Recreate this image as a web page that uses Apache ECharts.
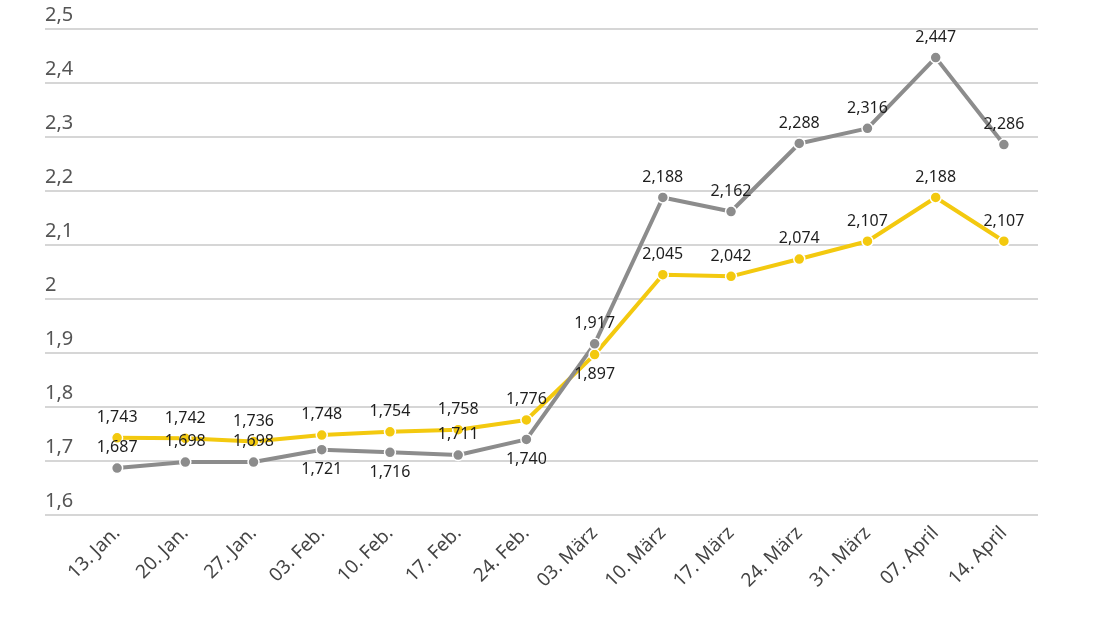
<!DOCTYPE html>
<html>
<head>
<meta charset="utf-8">
<script src="https://cdn.jsdelivr.net/npm/echarts@6/dist/echarts.min.js"></script>
<style>
  html, body { margin: 0; padding: 0; background: #fff; }
  #chart { width: 1100px; height: 618px; }
</style>
</head>
<body>
<div id="chart"></div>
<script>
// Wochen
const categories = ['13. Jan.', '20. Jan.', '27. Jan.', '03. Feb.', '10. Feb.', '17. Feb.', '24. Feb.',
  '03. März', '10. März', '17. März', '24. März', '31. März', '07. April', '14. April'];
const yellowValues = [1.743, 1.742, 1.736, 1.748, 1.754, 1.758, 1.776, 1.897, 2.045, 2.042, 2.074, 2.107, 2.188, 2.107];
const grayValues = [1.687, 1.698, 1.698, 1.721, 1.716, 1.711, 1.740, 1.917, 2.188, 2.162, 2.288, 2.316, 2.447, 2.286];
// Beschriftung unter dem Punkt
const yellowBelow = [7];
const grayBelow = [3, 4, 6];

const yMin = 1.6, yMax = 2.5, yStep = 0.1;
const fontFamily = '"Noto Sans", "Open Sans", sans-serif';

const fmt3 = v => v.toFixed(3).replace('.', ',');
const fmtAxis = v => String(Math.round(v * 10) / 10).replace('.', ',');

function toData(values, below) {
  return values.map((v, i) => below.indexOf(i) >= 0
    ? { value: v, label: { position: 'bottom' } }
    : v);
}

function makeSeries(name, color, values, below) {
  return {
    name: name,
    type: 'line',
    xAxisIndex: 1,
    yAxisIndex: 1,
    symbol: 'circle',
    symbolSize: 11,
    lineStyle: { color: color, width: 4 },
    itemStyle: { color: color, borderColor: '#fff', borderWidth: 1.5 },
    label: {
      show: true,
      position: 'top',
      distance: 6,
      color: '#1e1e1e',
      fontSize: 16,
      fontFamily: fontFamily,
      formatter: p => fmt3(p.value)
    },
    data: toData(values, below)
  };
}

const chart = echarts.init(document.getElementById('chart'));
chart.setOption({
  backgroundColor: '#fff',
  animation: false,
  grid: [
    { left: 45, right: 62, top: 29, bottom: 103 },
    { left: 83, right: 62, top: 29, bottom: 103 }
  ],
  xAxis: [
    { gridIndex: 0, type: 'value', min: 0, max: 1, show: false },
    {
      gridIndex: 1,
      type: 'category',
      data: categories,
      boundaryGap: true,
      axisLine: { show: false },
      axisTick: { show: false },
      axisLabel: {
        rotate: 45,
        margin: 15,
        interval: 0,
        color: '#444',
        fontSize: 19,
        fontFamily: fontFamily
      }
    }
  ],
  yAxis: [
    {
      gridIndex: 0,
      type: 'value',
      min: yMin,
      max: yMax,
      interval: yStep,
      axisLine: { show: false },
      axisTick: { show: false },
      splitLine: { show: true, lineStyle: { color: '#c8c8c8', width: 1.5 } },
      axisLabel: {
        inside: true,
        margin: 0,
        verticalAlign: 'bottom',
        padding: [0, 0, 4, 0],
        color: '#555',
        fontSize: 20,
        fontFamily: fontFamily,
        formatter: fmtAxis
      }
    },
    { gridIndex: 1, type: 'value', min: yMin, max: yMax, show: false }
  ],
  series: [
    makeSeries('gelb', '#F3C90F', yellowValues, yellowBelow),
    makeSeries('grau', '#8c8c8c', grayValues, grayBelow)
  ]
});
</script>
</body>
</html>
